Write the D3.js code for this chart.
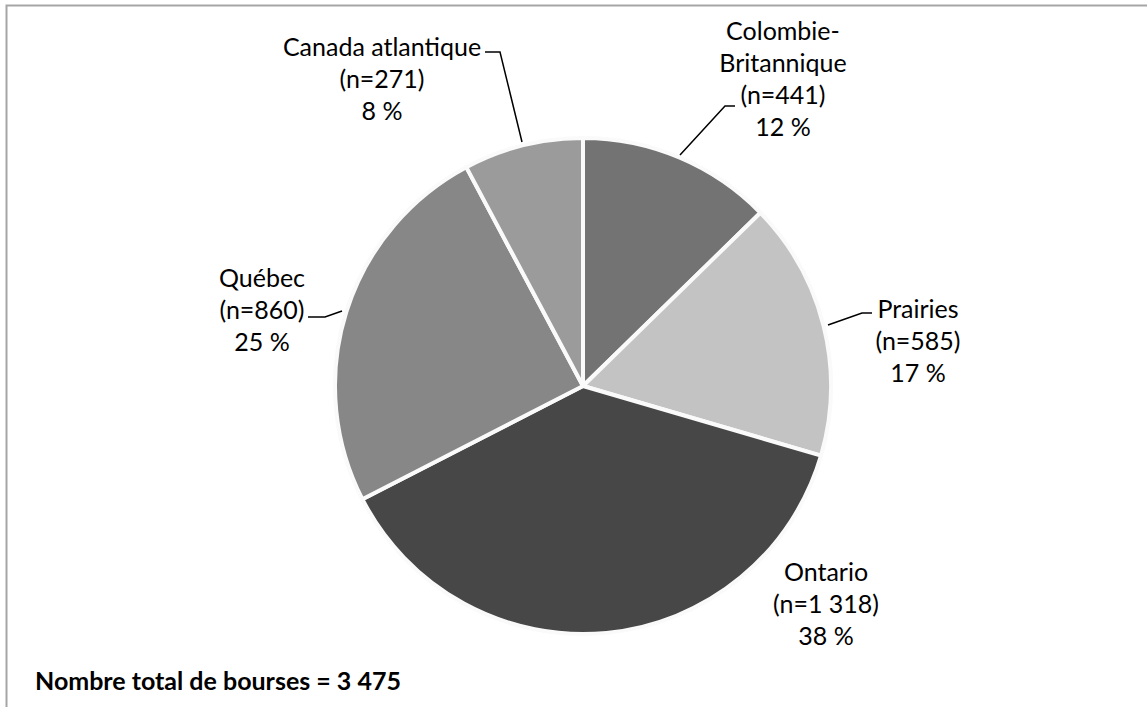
<!DOCTYPE html>
<html><head><meta charset="utf-8">
<script src="https://cdn.jsdelivr.net/npm/d3@7"></script>
<style>body{margin:0;background:#fff}svg{display:block}text{font-family:Lato,"Open Sans",sans-serif;fill:#000}</style>
</head><body><svg id="c" width="1147" height="707"></svg>
<script>
const categories = ["Colombie-Britannique","Prairies","Ontario","Québec","Canada atlantique"];
const counts = [441,585,1318,860,271];
const countLabels = ["(n=441)","(n=585)","(n=1 318)","(n=860)","(n=271)"];
const pctLabels = ["12 %","17 %","38 %","25 %","8 %"];
const nameLines = [["Colombie-","Britannique"],["Prairies"],["Ontario"],["Québec"],["Canada atlantique"]];
const colors = ["#737373","#c3c3c3","#474747","#878787","#9b9b9b"];
const totalLabel = "Nombre total de bourses = 3 475";

const svg = d3.select("#c");
svg.append("rect").attr("x",6.5).attr("y",5.5).attr("width",1300).attr("height",900)
  .attr("fill","none").attr("stroke","#a6a6a6").attr("stroke-width",2);

const cx=583, cy=386, R=248;
const pie = d3.pie().sort(null).value(d=>d)(counts);
const arc = d3.arc().innerRadius(0).outerRadius(R);
const g = svg.append("g").attr("transform",`translate(${cx},${cy})`);
g.selectAll("path").data(pie).join("path").attr("d",arc)
  .attr("fill",(d,i)=>colors[i]).attr("stroke","#fafafa").attr("stroke-width",4).attr("stroke-linejoin","round");

// label placement (text centre x, first baseline y) and leader lines
const labelPos = [[783,40],[918,318],[826,581],[262,287],[382,56]];
const leaders = [
  [[735,106],[725,106],[680,155]],
  [[872,313],[862,313],[828,325]],
  null,
  [[308,317],[325,317],[342,311]],
  [[485,52],[500,52],[522,142]]
];
const lh = 32;
categories.forEach((c,i)=>{
  const lines = nameLines[i].concat([countLabels[i], pctLabels[i]]);
  const t = svg.append("text").attr("text-anchor","middle").attr("font-size",25);
  lines.forEach((l,j)=>{
    t.append("tspan").attr("x",labelPos[i][0]).attr("y",labelPos[i][1]+j*lh).text(l);
  });
  if(leaders[i]) svg.append("path").attr("d",d3.line()(leaders[i])).attr("fill","none").attr("stroke","#000").attr("stroke-width",1.5);
});
svg.append("text").attr("x",35).attr("y",690).attr("font-size",25).attr("font-weight","bold").text(totalLabel);
</script></body></html>
